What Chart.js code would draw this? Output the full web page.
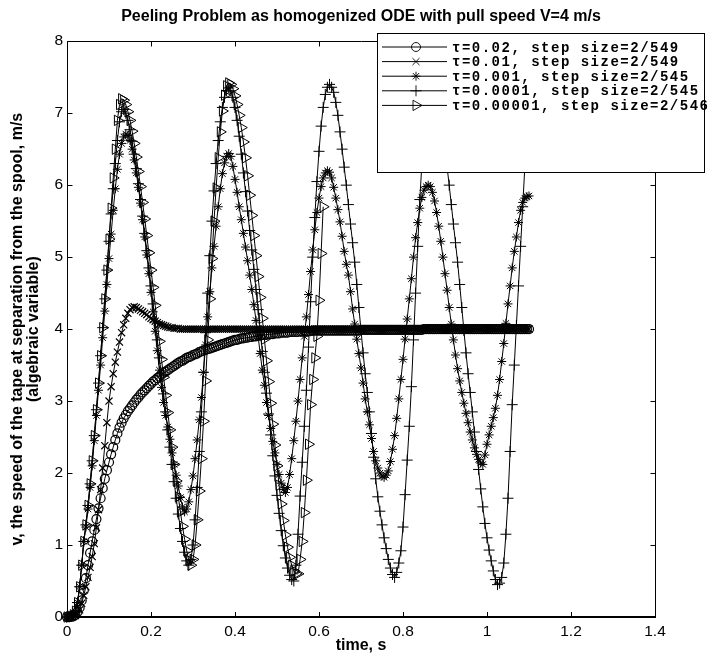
<!DOCTYPE html>
<html>
<head>
<meta charset="utf-8">
<script src="https://cdn.jsdelivr.net/npm/chart.js@4.4.1/dist/chart.umd.min.js"></script>
<style>
  html, body { margin: 0; padding: 0; background: #fff; }
  canvas { display: block; }
</style>
</head>
<body>
<canvas id="peelChart" width="717" height="656"></canvas>
<script>
// sample spacing of the read-off values (s)
const timeStep = 0.005;

const xTickLabels = ['0', '0.2', '0.4', '0.6', '0.8', '1', '1.2', '1.4'];
const yTickLabels = ['0', '1', '2', '3', '4', '5', '6', '7', '8'];

const seriesNames = [
  '\u03c4=0.02, step size=2/549',
  '\u03c4=0.01, step size=2/549',
  '\u03c4=0.001, step size=2/545',
  '\u03c4=0.0001, step size=2/545',
  '\u03c4=0.00001, step size=2/546'
];

// tau = 0.02
const speedTau002 = [
  0,0,0,0.01,0.03,0.07,0.13,0.23,0.37,0.54,
  0.72,0.89,1.05,1.21,1.36,1.51,1.65,1.79,1.92,2.04,
  2.15,2.26,2.36,2.46,2.55,2.63,2.7,2.76,2.81,2.86,
  2.9,2.94,2.98,3.02,3.05,3.09,3.12,3.15,3.18,3.21,
  3.24,3.27,3.29,3.32,3.34,3.37,3.39,3.41,3.43,3.45,
  3.47,3.49,3.51,3.53,3.55,3.56,3.58,3.6,3.61,3.62,
  3.64,3.65,3.66,3.68,3.69,3.7,3.71,3.72,3.73,3.74,
  3.75,3.76,3.77,3.78,3.79,3.8,3.81,3.82,3.83,3.84,
  3.85,3.85,3.86,3.87,3.87,3.88,3.88,3.89,3.89,3.9,
  3.9,3.91,3.91,3.92,3.92,3.92,3.93,3.93,3.93,3.94,
  3.94,3.94,3.95,3.95,3.95,3.95,3.96,3.96,3.96,3.96,
  3.96,3.97,3.97,3.97,3.97,3.97,3.97,3.98,3.98,3.98,
  3.98,3.98,3.98,3.98,3.98,3.98,3.98,3.98,3.98,3.98,
  3.98,3.98,3.98,3.98,3.98,3.98,3.98,3.98,3.98,3.98,
  3.99,3.99,3.99,3.99,3.99,3.99,3.99,3.99,3.99,3.99,
  3.99,3.99,3.99,3.99,3.99,3.99,3.99,3.99,3.99,3.99,
  3.99,3.99,3.99,3.99,3.99,3.99,3.99,3.99,3.99,3.99,
  4,4,4,4,4,4,4,4,4,4,
  4,4,4,4,4,4,4,4,4,4,
  4,4,4,4,4,4,4,4,4,4,
  4,4,4,4,4,4,4,4,4,4,
  4,4,4,4,4,4,4,4,4,4,
  4
];

// tau = 0.01
const speedTau001 = [
  0,0,0,0.01,0.02,0.05,0.1,0.19,0.3,0.42,
  0.55,0.69,0.84,1.02,1.24,1.49,1.77,2.07,2.38,2.7,
  3.0,3.2,3.38,3.54,3.68,3.82,3.95,4.06,4.15,4.22,
  4.27,4.3,4.31,4.3,4.28,4.26,4.24,4.22,4.2,4.17,
  4.15,4.13,4.11,4.09,4.07,4.06,4.05,4.04,4.03,4.02,
  4.02,4.01,4.01,4.01,4,4,4,4,4,4,
  4,4,4,4,4,4,4,4,4,4,
  4,4,4,4,4,4,4,4,4,4,
  4,4,4,4,4,4,4,4,4,4,
  4,4,4,4,4,4,4,4,4,4,
  4,4,4,4,4,4,4,4,4,4,
  4,4,4,4,4,4,4,4,4,4,
  4,4,4,4,4,4,4,4,4,4,
  4,4,4,4,4,4,4,4,4,4,
  4,4,4,4,4,4,4,4,4,4,
  4,4,4,4,4,4,4,4,4,4,
  4,4,4,4,4,4,4,4,4,4,
  4,4,4,4,4,4,4,4,4,4,
  4,4,4,4,4,4,4,4,4,4,
  4,4,4,4,4,4,4,4,4,4,
  4,4,4,4,4,4,4,4,4,4,
  4,4,4,4,4,4,4,4,4,4,
  4
];

// tau = 0.001
const speedTau0001 = [
  0,0,0.01,0.03,0.08,0.2,0.42,0.72,1.05,1.25,
  1.5,1.8,2.1,2.45,2.8,3.15,3.5,3.88,4.25,4.62,
  4.98,5.32,5.65,5.95,6.22,6.43,6.58,6.67,6.71,6.69,
  6.62,6.5,6.35,6.17,5.97,5.75,5.52,5.28,5.03,4.77,
  4.51,4.24,3.97,3.7,3.43,3.19,2.98,2.8,2.64,2.47,
  2.28,2.12,1.97,1.82,1.66,1.53,1.46,1.5,1.6,1.77,
  1.96,2.2,2.46,2.74,3.05,3.4,3.78,4.17,4.52,4.85,
  5.15,5.43,5.7,5.95,6.16,6.31,6.4,6.44,6.4,6.26,
  6.08,5.9,5.7,5.52,5.33,5.14,4.95,4.75,4.55,4.34,
  4.12,3.9,3.66,3.43,3.22,2.98,2.8,2.62,2.44,2.28,
  2.12,1.98,1.86,1.77,1.73,1.8,1.98,2.2,2.45,2.72,
  3.0,3.3,3.6,3.9,4.17,4.48,4.8,5.1,5.38,5.62,
  5.82,5.98,6.1,6.17,6.2,6.18,6.1,5.97,5.82,5.66,
  5.49,5.29,5.08,4.9,4.75,4.52,4.28,4.07,3.86,3.66,
  3.46,3.25,3.03,2.85,2.67,2.48,2.3,2.17,2.07,2.0,
  1.96,1.94,1.97,2.03,2.16,2.33,2.52,2.76,3.03,3.3,
  3.58,3.86,4.14,4.42,4.7,5.0,5.27,5.48,5.68,5.83,
  5.93,5.98,6.0,5.98,5.9,5.78,5.62,5.43,5.22,5.0,
  4.77,4.54,4.3,4.07,3.85,3.64,3.45,3.28,3.12,2.97,
  2.83,2.7,2.57,2.46,2.35,2.26,2.19,2.14,2.12,2.25,
  2.4,2.53,2.65,2.77,2.9,3.08,3.3,3.55,3.8,4.08,
  4.35,4.6,4.85,5.08,5.28,5.48,5.65,5.76,5.82,5.84,
  5.85
];

// tau = 0.0001
const speedTau00001 = [
  0,0,0.01,0.03,0.08,0.2,0.42,0.72,1.05,1.28,
  1.55,1.85,2.17,2.52,2.88,3.25,3.63,4.02,4.42,4.82,
  5.22,5.6,5.95,6.3,6.62,6.88,7.02,7.05,7.0,6.9,
  6.77,6.61,6.43,6.23,6.02,5.8,5.57,5.33,5.09,4.85,
  4.6,4.35,4.1,3.85,3.6,3.35,3.1,2.85,2.6,2.36,
  2.12,1.88,1.65,1.43,1.23,1.05,0.9,0.78,0.72,0.8,
  1.0,1.35,1.8,2.3,2.85,3.4,3.95,4.5,5.02,5.5,
  5.92,6.3,6.62,6.88,7.08,7.22,7.31,7.35,7.31,7.22,
  7.08,6.9,6.68,6.43,6.17,5.91,5.64,5.37,5.1,4.83,
  4.55,4.27,3.98,3.69,3.4,3.11,2.82,2.53,2.24,1.96,
  1.69,1.44,1.2,0.99,0.82,0.68,0.58,0.52,0.5,0.72,
  1.15,1.68,2.15,2.65,3.15,3.75,4.38,5.0,5.55,6.05,
  6.47,6.82,7.08,7.26,7.36,7.4,7.36,7.29,7.15,6.97,
  6.74,6.5,6.25,6.0,5.73,5.46,5.2,4.93,4.62,4.3,
  3.98,3.67,3.38,3.12,2.85,2.55,2.22,1.92,1.67,1.47,
  1.28,1.1,0.95,0.8,0.68,0.59,0.55,0.62,0.75,0.92,
  1.25,1.7,2.18,2.65,3.2,3.85,4.5,5.15,5.8,6.3,
  6.72,7.05,7.26,7.37,7.4,7.36,7.29,7.15,6.97,6.74,
  6.5,6.25,6.0,5.73,5.46,5.2,4.93,4.62,4.3,3.98,
  3.67,3.38,3.12,2.85,2.57,2.3,2.05,1.78,1.53,1.3,
  1.1,0.93,0.78,0.64,0.52,0.45,0.47,0.55,0.75,1.15,
  1.65,2.3,2.95,3.5,4.05,4.6,5.15,5.7,6.25,6.75,
  7.2
];

// tau = 0.00001 (run stops near t = 0.61)
const speedTau000001 = [
  0,0,0.01,0.03,0.08,0.2,0.42,0.72,1.05,1.28,
  1.55,1.85,2.17,2.52,2.88,3.25,3.63,4.02,4.42,4.82,
  5.25,5.68,6.1,6.5,6.9,7.12,7.2,7.18,7.12,7.02,
  6.9,6.75,6.58,6.39,6.19,5.98,5.76,5.53,5.3,5.06,
  4.82,4.58,4.33,4.08,3.83,3.58,3.33,3.08,2.84,2.6,
  2.36,2.12,1.89,1.67,1.46,1.26,1.08,0.92,0.79,0.72,
  0.8,1.0,1.35,1.75,2.2,2.72,3.28,3.85,4.42,4.98,
  5.5,5.96,6.38,6.74,7.03,7.25,7.38,7.42,7.4,7.34,
  7.24,7.12,6.97,6.8,6.6,6.38,6.13,5.86,5.58,5.3,
  5.02,4.73,4.44,4.15,3.86,3.56,3.27,2.97,2.68,2.39,
  2.1,1.83,1.57,1.34,1.14,0.97,0.83,0.72,0.64,0.6,
  0.6,0.8,1.05,1.45,1.9,2.4,2.95,3.3,3.6,3.9,
  4.4,5.05,5.7
];

const allSeries = [speedTau002, speedTau001, speedTau0001, speedTau00001, speedTau000001];

// marker look per series (MATLAB o, x, *, +, >)
const markerLook = [
  { style: 'circle', radius: 4.5, rotation: 0, width: 1.2 },
  { style: 'crossRot', radius: 5, rotation: 0, width: 1.2 },
  { style: 'star', radius: 4.5, rotation: 0, width: 1 },
  { style: 'cross', radius: 5.5, rotation: 0, width: 1 },
  { style: 'triangle', radius: 6, rotation: 90, width: 1 }
];

function toPoints(values) {
  return values.map((v, i) => ({ x: Math.round(i * timeStep * 1000) / 1000, y: v }));
}

const datasets = allSeries.map((vals, i) => ({
  label: seriesNames[i],
  data: toPoints(vals),
  borderColor: '#000',
  borderWidth: 1,
  pointStyle: markerLook[i].style,
  pointRadius: markerLook[i].radius,
  pointRotation: markerLook[i].rotation,
  pointBorderColor: '#000',
  pointBackgroundColor: 'rgba(0,0,0,0)',
  pointBorderWidth: markerLook[i].width,
  fill: false,
  tension: 0,
  clip: false,
  order: allSeries.length - i
}));

function drawMarker(ctx, look, x, y) {
  const r = look.radius;
  ctx.beginPath();
  if (look.style === 'circle') {
    ctx.arc(x, y, r, 0, Math.PI * 2);
  } else if (look.style === 'triangle') {
    ctx.moveTo(x + r, y);
    ctx.lineTo(x - r / 2, y - r * 0.866);
    ctx.lineTo(x - r / 2, y + r * 0.866);
    ctx.closePath();
  } else {
    if (look.style !== 'crossRot') {
      ctx.moveTo(x - r, y); ctx.lineTo(x + r, y);
      ctx.moveTo(x, y - r); ctx.lineTo(x, y + r);
    }
    if (look.style !== 'cross') {
      const d = r * Math.SQRT1_2;
      ctx.moveTo(x - d, y - d); ctx.lineTo(x + d, y + d);
      ctx.moveTo(x - d, y + d); ctx.lineTo(x + d, y - d);
    }
  }
  ctx.stroke();
}

// box around the axes with inward ticks on all four sides
const axesBox = {
  id: 'axesBox',
  afterDatasetsDraw(chart) {
    const { ctx, chartArea: a, scales: { x, y } } = chart;
    const L = Math.round(a.left) + 0.5, R = Math.round(a.right) + 0.5;
    const T = Math.round(a.top) + 0.5, B = Math.round(a.bottom);
    ctx.save();
    ctx.strokeStyle = '#000';
    ctx.lineWidth = 1;
    ctx.beginPath();
    ctx.moveTo(L, B); ctx.lineTo(L, T); ctx.lineTo(R, T); ctx.lineTo(R, B);
    x.ticks.forEach(t => {
      const px = Math.round(x.getPixelForValue(t.value)) + 0.5;
      ctx.moveTo(px, B); ctx.lineTo(px, B - 5);
      ctx.moveTo(px, T); ctx.lineTo(px, T + 5);
    });
    y.ticks.forEach(t => {
      const py = Math.round(y.getPixelForValue(t.value)) + 0.5;
      ctx.moveTo(L, py); ctx.lineTo(L + 5, py);
      ctx.moveTo(R, py); ctx.lineTo(R - 5, py);
    });
    ctx.stroke();
    // bottom axis line is drawn a bit heavier
    ctx.lineWidth = 2;
    ctx.beginPath();
    ctx.moveTo(L - 0.5, B); ctx.lineTo(R + 0.5, B);
    ctx.stroke();
    ctx.restore();
  }
};

// legend box in the top right corner, overlapping the axes frame
const cornerLegend = {
  id: 'cornerLegend',
  afterDraw(chart) {
    const ctx = chart.ctx;
    const box = { left: 377, top: 33, right: 704, bottom: 172 };
    ctx.save();
    ctx.fillStyle = '#fff';
    ctx.fillRect(box.left, box.top, box.right - box.left, box.bottom - box.top);
    ctx.strokeStyle = '#000';
    ctx.lineWidth = 1;
    ctx.strokeRect(box.left + 0.5, box.top + 0.5, box.right - box.left, box.bottom - box.top);
    ctx.font = "bold 14px 'Liberation Mono', 'Courier New', monospace";
    ctx.letterSpacing = '1.5px';
    ctx.textBaseline = 'middle';
    ctx.textAlign = 'left';
    seriesNames.forEach((name, i) => {
      const yRow = 47 + i * 14.6;
      ctx.lineWidth = 1;
      ctx.beginPath();
      ctx.moveTo(382, yRow); ctx.lineTo(447, yRow);
      ctx.stroke();
      ctx.lineWidth = 0.9;
      drawMarker(ctx, markerLook[i], 416, yRow);
      ctx.fillStyle = '#000';
      ctx.fillText(name, 452, yRow + 1);
    });
    ctx.restore();
  }
};

const labelFont = "'Liberation Sans', Arial, Helvetica, sans-serif";

new Chart(document.getElementById('peelChart').getContext('2d'), {
  type: 'line',
  data: { datasets: datasets },
  options: {
    responsive: false,
    animation: false,
    events: [],
    layout: { padding: { left: 0, right: 62, top: 0, bottom: 0 } },
    plugins: {
      legend: { display: false },
      tooltip: { enabled: false },
      title: {
        display: true,
        fullSize: false,
        text: 'Peeling Problem as homogenized ODE with pull speed V=4 m/s',
        color: '#000',
        font: { family: labelFont, size: 16, weight: 'bold', lineHeight: 1.2 },
        padding: { top: 7, bottom: 15 }
      }
    },
    scales: {
      x: {
        type: 'linear',
        min: 0,
        max: 1.4,
        afterFit(scale) { scale.height = 39; },
        grid: { display: false, drawTicks: false },
        border: { display: false },
        ticks: {
          stepSize: 0.2,
          padding: 5,
          color: '#000',
          font: { family: labelFont, size: 15.5 },
          maxRotation: 0,
          callback: (v) => xTickLabels[Math.round(v / 0.2)]
        },
        title: {
          display: true,
          text: 'time, s',
          color: '#000',
          font: { family: labelFont, size: 16, weight: 'bold', lineHeight: 1.0 },
          padding: { top: 0, bottom: 2 }
        }
      },
      y: {
        type: 'linear',
        min: 0,
        max: 8,
        afterFit(scale) { scale.width = 67; },
        grid: { display: false, drawTicks: false },
        border: { display: false },
        ticks: {
          stepSize: 1,
          padding: 4,
          color: '#000',
          font: { family: labelFont, size: 15.5 },
          callback: (v) => yTickLabels[Math.round(v)]
        },
        title: {
          display: true,
          text: ['v, the speed of the tape at separation from the spool, m/s', '(algebraic variable)'],
          color: '#000',
          font: { family: labelFont, size: 16, weight: 'bold', lineHeight: 1.0 },
          padding: { top: 10, bottom: 0 }
        }
      }
    }
  },
  plugins: [axesBox, cornerLegend]
});
</script>
</body>
</html>
